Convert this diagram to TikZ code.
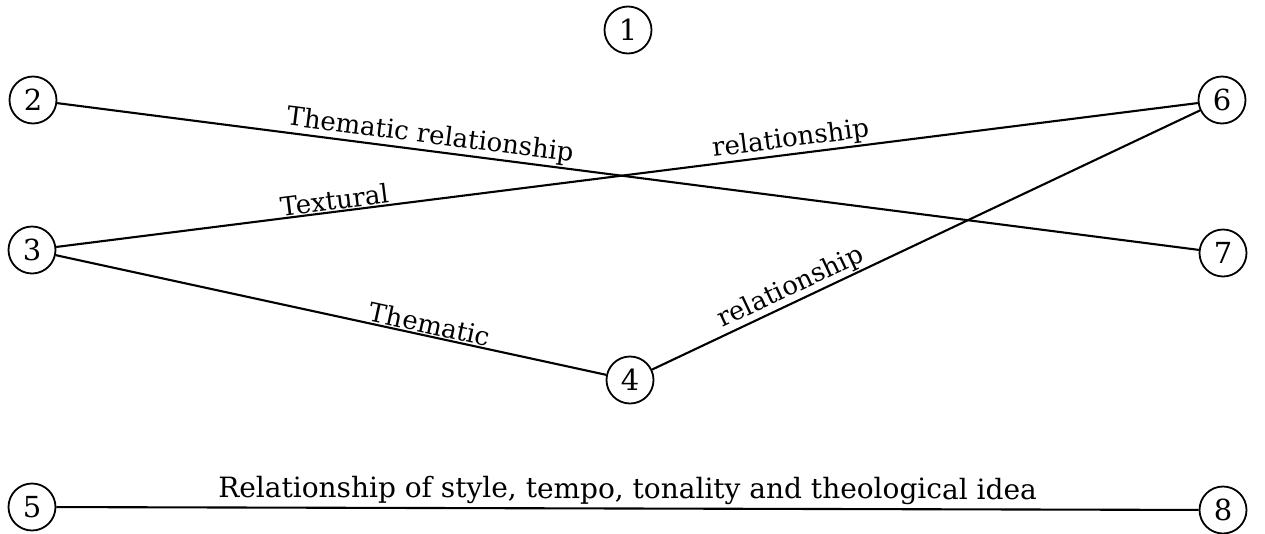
\documentclass[tikz,border=0pt]{standalone}
\usepackage{fontspec}
\setmainfont{DejaVu Serif}
\begin{document}
\begin{tikzpicture}[x=1pt,y=-1pt,
  num/.style={draw,circle,line width=1.8pt,minimum size=47pt,inner sep=0pt,font=\fontsize{29}{29}\selectfont},
  conn/.style={line width=2.1pt},
  lbl/.style={sloped,above,inner sep=1pt,font=\fontsize{26}{28}\selectfont}]
\useasboundingbox (0,0) rectangle (1265,533);
\node[num] (n1) at (628,30) {1};
\node[num] (n2) at (33,100) {2};
\node[num] (n3) at (32,250) {3};
\node[num] (n4) at (630,380) {4};
\node[num] (n5) at (32,507) {5};
\node[num] (n6) at (1222,100) {6};
\node[num] (n7) at (1223,253) {7};
\node[num] (n8) at (1223,510) {8};
\draw[conn] (n2) -- node[lbl,pos=0.325] {Thematic relationship} (n7);
\draw[conn] (n3) -- node[lbl,pos=0.245] {Textural} node[lbl,pos=0.645] {relationship} (n6);
\draw[conn] (n3) -- node[lbl,pos=0.675] {Thematic} (n4);
\draw[conn] (n4) -- node[lbl,pos=0.265] {relationship} (n6);
\draw[conn] (n5) -- node[lbl,pos=0.5,inner sep=3pt,font=\fontsize{28}{30}\selectfont] {Relationship of style, tempo, tonality and theological idea} (n8);
\end{tikzpicture}
\end{document}
